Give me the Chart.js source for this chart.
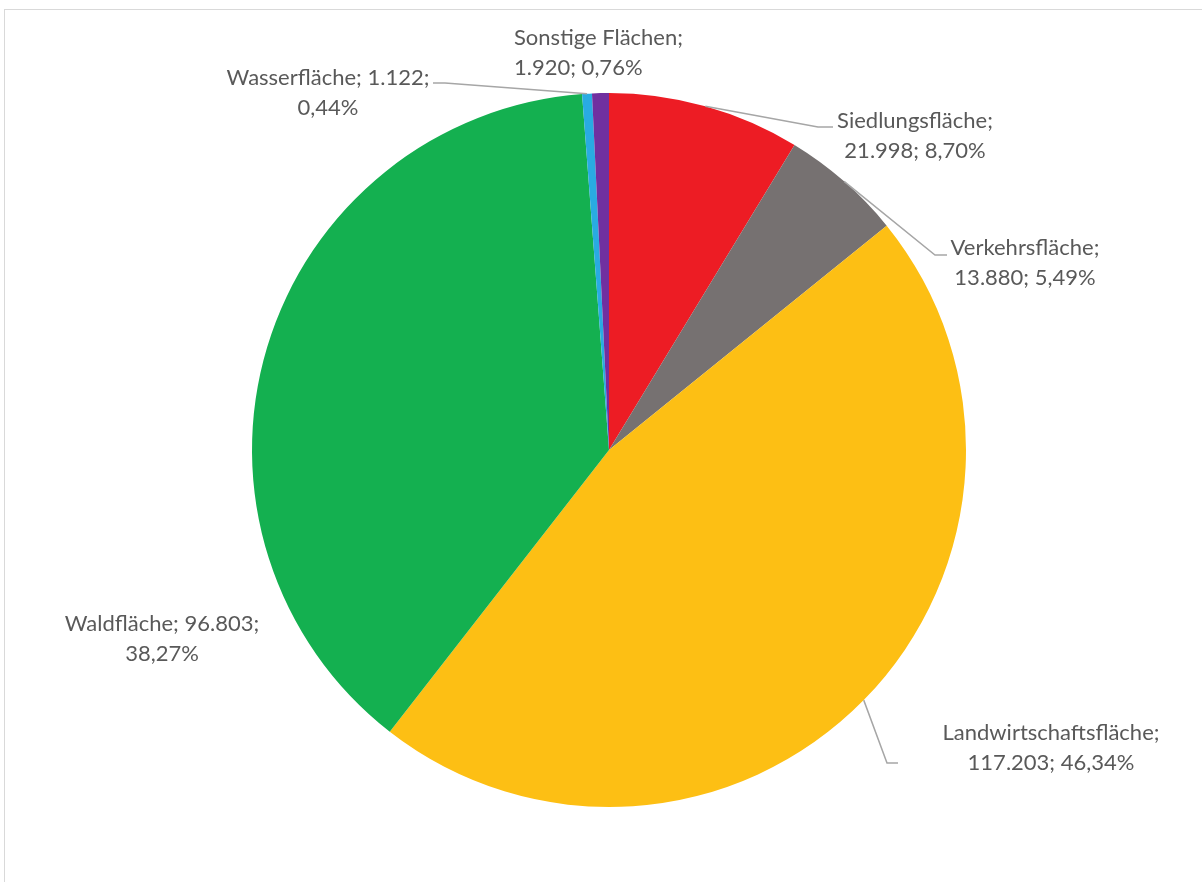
<!DOCTYPE html>
<html>
<head>
<meta charset="utf-8">
<script src="https://cdn.jsdelivr.net/npm/chart.js@4.4.1/dist/chart.umd.min.js"></script>
<style>
  html, body { margin: 0; padding: 0; background: #fff; }
  #wrap { position: relative; width: 1202px; height: 882px; overflow: hidden; }
  #frame {
    position: absolute; left: 4px; top: 9px; width: 1300px; height: 1000px;
    border-left: 1px solid #d9d9d9; border-top: 1px solid #d9d9d9;
  }
  canvas { position: absolute; left: 0; top: 0; }
</style>
</head>
<body>
<div id="wrap">
  <div id="frame"></div>
  <canvas id="chart" width="1202" height="882"></canvas>
</div>
<script>
// Daten: Flächennutzung (ha)
const categories = [
  "Siedlungsfläche",
  "Verkehrsfläche",
  "Landwirtschaftsfläche",
  "Waldfläche",
  "Wasserfläche",
  "Sonstige Flächen",
];
const values = [21998, 13880, 117203, 96803, 1122, 1920];
const colors = ["#ed1c24", "#767171", "#fdbf14", "#14b050", "#29abe2", "#7030a0"];

// Layout der Beschriftungen: Position der ersten Zeile, Ausrichtung,
// Umbruch (1 = nach Name, 2 = nach Wert) und Knickpunkte der Führungslinie
const labelLayout = [
  { x: 915, y: 121, align: "center", brk: 1, leader: [[818, 127], [833, 127]] },
  { x: 1025, y: 248, align: "center", brk: 1, leader: [[935, 255], [947, 255]] },
  { x: 1051, y: 733, align: "center", brk: 1, leader: [[887, 763], [898, 763]] },
  { x: 162, y: 624, align: "center", brk: 2, leader: null },
  { x: 328, y: 78, align: "center", brk: 2, leader: [[445, 83], [433, 83]] },
  { x: 514, y: 38, align: "left", brk: 1, leader: null },
];

// Zahl mit deutschem Tausenderpunkt
function formatNumber(n) {
  return n.toString().replace(/\B(?=(\d{3})+(?!\d))/g, ".");
}

function formatPercent(p) {
  return p.toFixed(2).replace(".", ",") + "%";
}

const total = values.reduce((a, b) => a + b, 0);

const labelPlugin = {
  id: "pieLabels",
  afterDatasetsDraw(chart) {
    const ctx = chart.ctx;
    const meta = chart.getDatasetMeta(0);
    ctx.save();
    meta.data.forEach((arc, i) => {
      const lay = labelLayout[i];
      const mid = (arc.startAngle + arc.endAngle) / 2;
      const px = arc.x + Math.cos(mid) * arc.outerRadius;
      const py = arc.y + Math.sin(mid) * arc.outerRadius;

      if (lay.leader) {
        ctx.strokeStyle = "#a6a6a6";
        ctx.lineWidth = 1.5;
        ctx.beginPath();
        ctx.moveTo(px, py);
        lay.leader.forEach((p) => ctx.lineTo(p[0], p[1]));
        ctx.stroke();
      }

      const name = categories[i] + ";";
      const val = formatNumber(values[i]) + ";";
      const pct = formatPercent((values[i] / total) * 100);
      const lines = lay.brk === 1 ? [name, val + " " + pct] : [name + " " + val, pct];

      ctx.fillStyle = "#595959";
      ctx.font = "22px Lato, 'Open Sans', sans-serif";
      ctx.textAlign = lay.align;
      ctx.textBaseline = "middle";
      lines.forEach((t, k) => ctx.fillText(t, lay.x, lay.y + k * 29.5));
    });
    ctx.restore();
  },
};

const ctxPie = document.getElementById("chart").getContext("2d");
new Chart(ctxPie, {
  type: "pie",
  data: {
    labels: categories,
    datasets: [
      {
        data: values,
        backgroundColor: colors,
        borderWidth: 0,
      },
    ],
  },
  options: {
    responsive: false,
    animation: false,
    layout: { padding: { left: 109, right: 93, top: 93, bottom: 75 } },
    plugins: {
      legend: { display: false },
      tooltip: { enabled: false },
    },
  },
  plugins: [labelPlugin],
});
</script>
</body>
</html>
